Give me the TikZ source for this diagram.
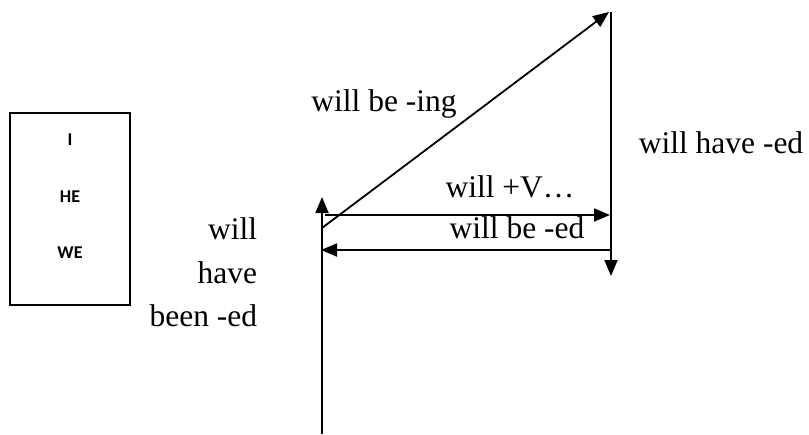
\documentclass[tikz,border=0pt]{standalone}
\usepackage{fontspec}
\setmainfont{Liberation Serif}
\newfontfamily\boxfont{Carlito}
\usetikzlibrary{arrows.meta,positioning}

\begin{document}
\begin{tikzpicture}[x=1pt, y=-1pt, line width=1.8pt,
        lbl/.style={font=\fontsize{31.5}{44}\selectfont, inner sep=0pt, anchor=base},
        pron/.style={font=\boxfont\bfseries\fontsize{18}{20}\selectfont, inner sep=0pt, anchor=base},
        subj/.style={draw, line width=1.4pt, minimum width=120pt, minimum height=192pt},
        arrow/.style={-{Triangle[length=16pt,width=13pt]}}]
        \useasboundingbox (0,0) rectangle (809,434);
        % subject box
        \node[subj] (box) at (70,209) {};
        \node[pron] (i) at (70,145) {I};
        \node[pron] (he) at (70,202) {HE};
        \node[pron] (we) at (70,258) {WE};
        % end points of the lines
        \coordinate (base) at (322,434);
        \coordinate (up) at (322,197);
        \coordinate (start) at (322,228);
        \coordinate (peak) at (609,12);
        \coordinate (rtop) at (611,12);
        \coordinate (rbot) at (611,276);
        \coordinate (fwd0) at (325,215);
        \coordinate (fwd1) at (610,215);
        \coordinate (back0) at (611,250);
        \coordinate (back1) at (321,250);
        \draw[arrow] (base) -- (up);
        \draw[arrow] (start) -- (peak);
        \draw[arrow] (rtop) -- (rbot);
        \draw[arrow] (fwd0) -- (fwd1);
        \draw[arrow] (back0) -- (back1);
        % labels
        \node[lbl] (ing) at (384,111) {will be -ing};
        \node[lbl] (perf) at (721,153) {will have -ed};
        \node[lbl] (simple) at (510,197) {will +V\ldots};
        \node[lbl] (pass) at (517,238) {will be -ed};
        \node[lbl, anchor=base east] (pp1) at (258,239) {will};
        \node[lbl, anchor=base east] (pp2) at (258,283) {have};
        \node[lbl, anchor=base east] (pp3) at (258,326) {been -ed};
      \end{tikzpicture}
\end{document}
